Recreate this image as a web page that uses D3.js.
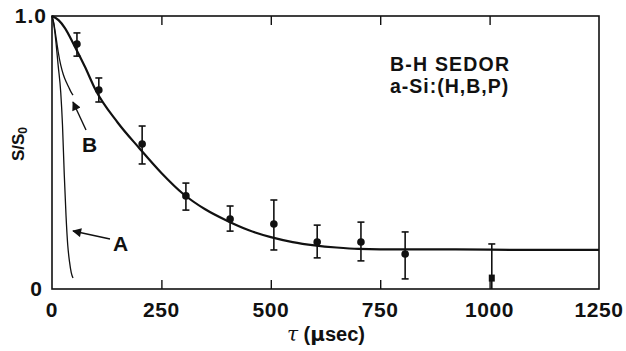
<!DOCTYPE html>
<html><head><meta charset="utf-8">
<script src="https://cdn.jsdelivr.net/npm/d3@7"></script>
<style>
html,body{margin:0;padding:0;background:#fff;}
svg text{font-family:"Liberation Sans",Arial,Helvetica,sans-serif;font-weight:bold;fill:#111;}
</style></head><body>
<svg id="c" width="626" height="351"></svg>
<script>
// Measured data points (tau in microseconds, S/S0) with error bar limits
const tau = [57, 107, 206, 306, 407, 507, 606, 706, 807, 1005];
const sVal = [0.897, 0.729, 0.531, 0.341, 0.256, 0.238, 0.172, 0.172, 0.128, 0.040];
const errHi = [0.938, 0.773, 0.597, 0.388, 0.304, 0.326, 0.234, 0.245, 0.209, 0.165];
const errLo = [0.853, 0.685, 0.458, 0.289, 0.212, 0.143, 0.114, 0.103, 0.037, 0.0];
// Fitted curve
const fitTau = [0, 15, 30, 50, 75, 100, 150, 200, 250, 300, 350, 400, 450, 500, 550, 600, 650, 700, 800, 900, 1000, 1100, 1250];
const fitS = [1.0, 0.985, 0.955, 0.895, 0.815, 0.728, 0.61, 0.515, 0.425, 0.348, 0.292, 0.25, 0.215, 0.19, 0.172, 0.16, 0.152, 0.147, 0.145, 0.145, 0.144, 0.143, 0.143];
// Curve A and B (calculated decays)
const aTau = [0, 4, 8, 14, 20, 24, 28, 32, 36, 40, 44, 48];
const aS = [1.0, 0.97, 0.92, 0.82, 0.72, 0.6, 0.42, 0.27, 0.16, 0.1, 0.06, 0.04];
const bTau = [0, 4, 8, 14, 20, 26, 32, 38, 44, 48];
const bS = [1.0, 0.975, 0.935, 0.87, 0.82, 0.785, 0.76, 0.74, 0.72, 0.71];
const xTicks = [0, 250, 500, 750, 1000, 1250];
const yTicks = [0, 1.0];

const svg = d3.select("#c");
const x = d3.scaleLinear().domain([0, 1250]).range([52, 599]);
const y = d3.scaleLinear().domain([0, 1]).range([289, 16]);

// inner ticks bottom and top
const bottomAxis = d3.axisBottom(x).tickValues(xTicks.slice(1, 5)).tickSizeInner(-9).tickSizeOuter(0).tickFormat("");
const topAxis = d3.axisTop(x).tickValues(xTicks.slice(1, 5)).tickSizeInner(-9).tickSizeOuter(0).tickFormat("");
const gb = svg.append("g").attr("transform", `translate(0,${y(0)})`).call(bottomAxis);
const gt = svg.append("g").attr("transform", `translate(0,${y(1)})`).call(topAxis);
[gb, gt].forEach(g => { g.select(".domain").remove(); g.selectAll("line").attr("stroke", "#111").attr("stroke-width", 1.4); });

// frame
svg.append("rect").attr("x", x(0)).attr("y", y(1)).attr("width", x(1250) - x(0)).attr("height", y(0) - y(1))
  .attr("fill", "none").attr("stroke", "#111").attr("stroke-width", 1.6);

// x tick labels
svg.append("g").selectAll("text").data(xTicks).join("text")
  .attr("x", d => x(d)).attr("y", 317).attr("text-anchor", "middle")
  .attr("font-size", 21).attr("letter-spacing", 0.6).text(d => d);
// y tick labels
svg.append("g").selectAll("text").data(yTicks).join("text")
  .attr("x", d => d === 0 ? 43 : 47).attr("y", d => y(d) + 7).attr("text-anchor", "end")
  .attr("font-size", 21).attr("letter-spacing", 1).text(d => d === 0 ? "0" : d.toFixed(1));

// axis titles
const xt = svg.append("text").attr("x", 326).attr("y", 341).attr("text-anchor", "middle").attr("font-size", 20);
xt.append("tspan").attr("font-style", "italic").attr("font-weight", "normal").attr("font-family", "DejaVu Serif").text("τ");
xt.append("tspan").text(" (");
xt.append("tspan").attr("font-family", "DejaVu Sans").attr("font-weight", "bold").text("μ");
xt.append("tspan").text("sec)");

const yt = svg.append("text").attr("transform", "translate(24,144) rotate(-90)").attr("text-anchor", "middle").attr("font-size", 17);
yt.append("tspan").text("S/S");
yt.append("tspan").attr("font-size", 12).attr("dy", 3).text("0");

const line = d3.line().x(d => x(d[0])).y(d => y(d[1])).curve(d3.curveMonotoneX);

svg.append("path").datum(fitTau.map((t, i) => [t, fitS[i]])).attr("d", line)
  .attr("fill", "none").attr("stroke", "#111").attr("stroke-width", 2.2);
svg.append("path").datum(aTau.map((t, i) => [t, aS[i]])).attr("d", line)
  .attr("fill", "none").attr("stroke", "#111").attr("stroke-width", 1.3);
svg.append("path").datum(bTau.map((t, i) => [t, bS[i]])).attr("d", line)
  .attr("fill", "none").attr("stroke", "#111").attr("stroke-width", 1.3);

// error bars
const eb = svg.append("g").attr("stroke", "#111").attr("stroke-width", 1.6);
tau.forEach((t, i) => {
  eb.append("line").attr("x1", x(t)).attr("x2", x(t)).attr("y1", y(errHi[i])).attr("y2", y(errLo[i]));
  eb.append("line").attr("x1", x(t) - 3.5).attr("x2", x(t) + 3.5).attr("y1", y(errHi[i])).attr("y2", y(errHi[i]));
  if (errLo[i] > 0) eb.append("line").attr("x1", x(t) - 3.5).attr("x2", x(t) + 3.5).attr("y1", y(errLo[i])).attr("y2", y(errLo[i]));
});
svg.append("g").selectAll("circle").data(tau.slice(0, 9)).join("circle")
  .attr("cx", d => x(d)).attr("cy", (d, i) => y(sVal[i])).attr("r", 3.8).attr("fill", "#111");
svg.append("rect").attr("x", x(tau[9]) - 3).attr("y", y(sVal[9]) - 3.5).attr("width", 6).attr("height", 7).attr("fill", "#111");

// annotations with arrows
const defs = svg.append("defs");
defs.append("marker").attr("id", "ah").attr("viewBox", "0 0 10 10").attr("refX", 9).attr("refY", 5)
  .attr("markerWidth", 10).attr("markerHeight", 9).attr("markerUnits", "userSpaceOnUse").attr("orient", "auto")
  .append("path").attr("d", "M0,0 L10,5 L0,10 z").attr("fill", "#111");
svg.append("line").attr("x1", 110).attr("y1", 239).attr("x2", 73).attr("y2", 231)
  .attr("stroke", "#111").attr("stroke-width", 1.4).attr("marker-end", "url(#ah)");
svg.append("text").attr("x", 113).attr("y", 251).attr("font-size", 21).text("A");
svg.append("line").attr("x1", 86).attr("y1", 130).attr("x2", 73).attr("y2", 102)
  .attr("stroke", "#111").attr("stroke-width", 1.4).attr("marker-end", "url(#ah)");
svg.append("text").attr("x", 82).attr("y", 152).attr("font-size", 21).text("B");

svg.append("text").attr("x", 390).attr("y", 71).attr("font-size", 19.5).attr("letter-spacing", 1.2).text("B-H SEDOR");
svg.append("text").attr("x", 390).attr("y", 93).attr("font-size", 19.5).attr("letter-spacing", 1.0).text("a-Si:(H,B,P)");
</script></body></html>
